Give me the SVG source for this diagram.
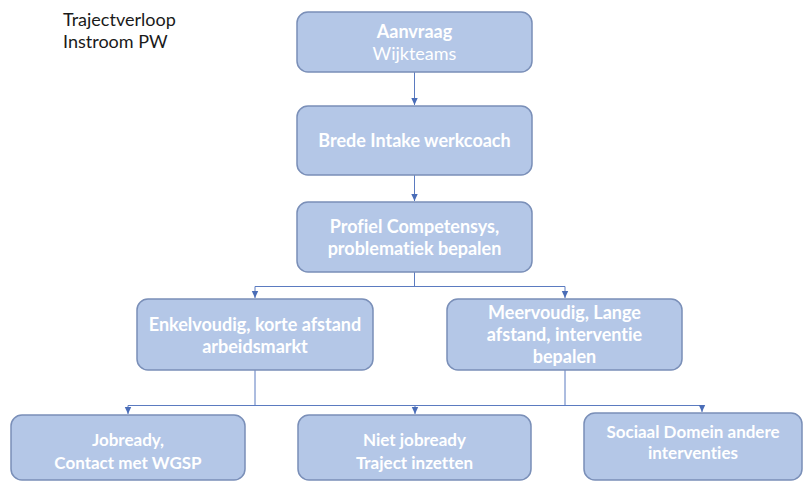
<svg xmlns="http://www.w3.org/2000/svg" width="811" height="481" viewBox="0 0 811 481">
<defs>
<style>
.box{fill:#B4C7E7;stroke:#7A8FB8;stroke-width:1.5}
.t{font-family:Lato,"Open Sans","Liberation Sans",sans-serif;font-size:18px;font-weight:bold;fill:#FFFFFF;text-anchor:middle;font-variant-ligatures:none;font-feature-settings:"liga" 0,"dlig" 0}
.tn{font-weight:normal}
.tc{font-size:17px}
.c{fill:none;stroke:#5B7BC0;stroke-width:1}
.title{font-family:Lato,"Open Sans","Liberation Sans",sans-serif;font-size:18px;fill:#1a1a1a;font-variant-ligatures:none}
</style>
<marker id="ah" markerWidth="8" markerHeight="8" refX="7" refY="4" orient="auto" markerUnits="userSpaceOnUse">
<path d="M0,0.8 L7,4 L0,7.2 Z" fill="#4A6DB8"/>
</marker>
</defs>
<rect width="811" height="481" fill="#FFFFFF"/>
<g id="title">
<text class="title" x="63" y="26">Trajectverloop</text>
<text class="title" x="63" y="48">Instroom PW</text>
</g>
<g id="connectors">
<path class="c" d="M414.5,72 V105" marker-end="url(#ah)"/>
<path class="c" d="M414.5,175 V201" marker-end="url(#ah)"/>
<path class="c" d="M414.5,272 V286.5 M255,286.5 H565"/>
<path class="c" d="M255,286.5 V298" marker-end="url(#ah)"/>
<path class="c" d="M565,286.5 V298" marker-end="url(#ah)"/>
<path class="c" d="M255,370 V405.5 M565,370 V405.5 M128,405.5 H702"/>
<path class="c" d="M128,405.5 V414" marker-end="url(#ah)"/>
<path class="c" d="M415,405.5 V414" marker-end="url(#ah)"/>
<path class="c" d="M702,405.5 V412" marker-end="url(#ah)"/>
</g>
<g id="aanvraag">
<rect class="box" x="297" y="12" width="235" height="60" rx="11"/>
<text class="t" x="414.5" y="38">Aanvraag</text>
<text class="t tn" x="414.5" y="60">Wijkteams</text>
</g>
<g id="intake">
<rect class="box" x="297" y="106" width="235" height="69" rx="11"/>
<text class="t" x="414.5" y="147">Brede Intake werkcoach</text>
</g>
<g id="profiel">
<rect class="box" x="297" y="202" width="235" height="70" rx="11"/>
<text class="t" x="414.5" y="233">Profiel Competensys,</text>
<text class="t" x="414.5" y="255">problematiek bepalen</text>
</g>
<g id="enkelvoudig">
<rect class="box" x="137" y="299" width="236" height="71" rx="11"/>
<text class="t" x="255" y="331">Enkelvoudig, korte afstand</text>
<text class="t" x="255" y="353">arbeidsmarkt</text>
</g>
<g id="meervoudig">
<rect class="box" x="447" y="299" width="235" height="71" rx="11"/>
<text class="t" x="564.5" y="319">Meervoudig, Lange</text>
<text class="t" x="564.5" y="341">afstand, interventie</text>
<text class="t" x="564.5" y="363">bepalen</text>
</g>
<g id="jobready">
<rect class="box" x="11" y="415" width="234" height="65" rx="11"/>
<text class="t tc" x="128" y="446">Jobready,</text>
<text class="t tc" x="128" y="469">Contact met WGSP</text>
</g>
<g id="nietjobready">
<rect class="box" x="298" y="415" width="233" height="65" rx="11"/>
<text class="t tc" x="414.5" y="446">Niet jobready</text>
<text class="t tc" x="414.5" y="469">Traject inzetten</text>
</g>
<g id="sociaal">
<rect class="box" x="584" y="413" width="218" height="67" rx="11"/>
<text class="t tc" x="693" y="438">Sociaal Domein andere</text>
<text class="t tc" x="693" y="459">interventies</text>
</g>
</svg>
